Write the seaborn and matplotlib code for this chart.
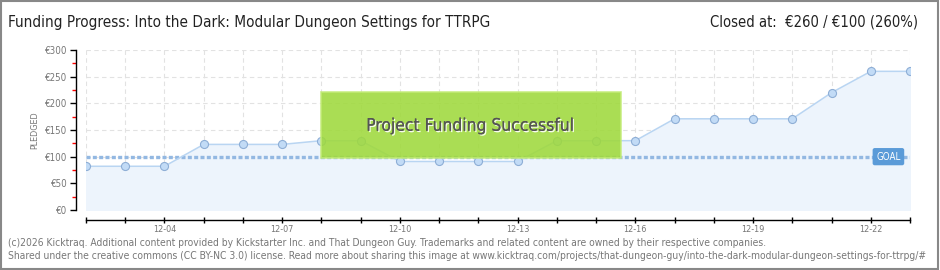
import matplotlib
matplotlib.use("Agg")
import matplotlib.pyplot as plt
import matplotlib.patheffects as pe
from matplotlib.patches import Rectangle
import seaborn as sns
import pandas as pd
import numpy as np

days = ["12-02", "12-03", "12-04", "12-05", "12-06", "12-07", "12-08", "12-09",
        "12-10", "12-11", "12-12", "12-13", "12-14", "12-15", "12-16", "12-17",
        "12-18", "12-19", "12-20", "12-21", "12-22", "12-23"]
pledged = [82, 82, 82, 123, 123, 123, 130, 130, 91, 91, 91, 91, 130, 130, 130,
           171, 171, 171, 171, 220, 260, 260]
goal = 100
yticks = [0, 50, 100, 150, 200, 250, 300]
ytick_labels = ["€0", "€50", "€100", "€150", "€200", "€250", "€300"]
xtick_labels = ["12-04", "12-07", "12-10", "12-13", "12-16", "12-19", "12-22"]
title = "Funding Progress: Into the Dark: Modular Dungeon Settings for TTRPG"
status = "Closed at:  €260 / €100 (260%)"
footer1 = ("(c)2026 Kicktraq. Additional content provided by Kickstarter Inc. and That Dungeon Guy. "
           "Trademarks and related content are owned by their respective companies.")
footer2 = ("Shared under the creative commons (CC BY-NC 3.0) license. Read more about sharing this image at "
           "www.kicktraq.com/projects/that-dungeon-guy/into-the-dark-modular-dungeon-settings-for-ttrpg/#")

sns.set_style("white")
plt.rcParams["font.family"] = ["DejaVu Sans"]
plt.rcParams["font.stretch"] = "condensed"

df = pd.DataFrame({"day": np.arange(len(days)), "pledged": pledged})

fig = plt.figure(figsize=(9.4, 2.7), dpi=100)
ax = fig.add_axes([86 / 940, 60 / 270, 824 / 940, 160 / 270])

ax.fill_between(df["day"], df["pledged"], 0, color="#edf4fc", zorder=1)
sns.lineplot(data=df, x="day", y="pledged", ax=ax, color="#b9d5f2", lw=1.1,
             marker="o", markersize=5.8, markerfacecolor="#c2dbf6",
             markeredgecolor="#8eaed6", markeredgewidth=0.8, zorder=3)

ax.axhline(goal, color="#93b8e2", lw=2.4, ls=(0, (1.2, 0.7)), zorder=2)

ax.set_xlim(0, len(days) - 1)
ax.set_ylim(0, 300)
ax.set_yticks(yticks)
ax.set_yticklabels(ytick_labels)
ax.set_yticks([25, 75, 125, 175, 225, 275], minor=True)
ax.set_xticks(np.arange(len(days)))
ax.set_xticklabels([d if d in xtick_labels else "" for d in days])

ax.grid(True, which="major", color="#e2e2e2", ls=(0, (4, 3)), lw=0.8)
ax.set_axisbelow(True)

for s in ["top", "right"]:
    ax.spines[s].set_visible(False)
ax.spines["left"].set_position(("outward", 7.2))
ax.spines["bottom"].set_position(("outward", 7.2))
ax.spines["left"].set_color("#000000")
ax.spines["bottom"].set_color("#000000")
ax.spines["left"].set_linewidth(1)
ax.spines["bottom"].set_linewidth(1)

ax.tick_params(axis="y", which="major", length=4, width=1, color="black",
               labelsize=7, labelcolor="#777777", pad=2, left=True)
ax.tick_params(axis="y", which="minor", length=3, width=1, color="red", left=True)
ax.tick_params(axis="x", which="major", length=5, width=1, color="black",
               direction="inout", labelsize=6.5, labelcolor="#777777", pad=1, bottom=True)

ax.set_xlabel("")
ax.set_ylabel("PLEDGED", fontsize=6.5, color="#777777", labelpad=4)

# goal label
ax.text(20.45, goal, "GOAL", ha="center", va="center", fontsize=7, color="white",
        zorder=6, bbox=dict(boxstyle="round,pad=0.3,rounding_size=0.15",
                            fc="#5b9bd8", ec="#5b9bd8"))

# success banner
rect = Rectangle((6.0, 97), 7.63, 124, facecolor="#9fd93c", edgecolor="#c4ec7a",
                 lw=1.2, alpha=0.88, zorder=5)
ax.add_patch(rect)
ax.text(9.8, 158, "Project Funding Successful", ha="center", va="center",
        fontsize=12.5, color="#555555", zorder=7,
        path_effects=[pe.withSimplePatchShadow(offset=(1, -1), shadow_rgbFace="white", alpha=0.9),
                      pe.Normal()])

fig.text(8 / 940, 1 - 22 / 270, title, ha="left", va="center", fontsize=11, color="#222222")
fig.text(918 / 940, 1 - 22 / 270, status, ha="right", va="center", fontsize=10.6, color="#222222")
fig.text(8 / 940, 1 - 243 / 270, footer1, ha="left", va="center", fontsize=7.35, color="#777777")
fig.text(8 / 940, 1 - 256 / 270, footer2, ha="left", va="center", fontsize=7.35, color="#777777")

fig.patches.append(Rectangle((0.001, 0.002), 0.997, 0.995, transform=fig.transFigure,
                             fill=False, ec="#888888", lw=1.5))

fig.savefig("out.png", dpi=100)
